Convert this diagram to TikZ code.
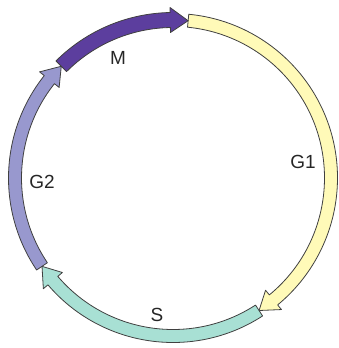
\documentclass[tikz,border=0pt]{standalone}
\usepackage{fontspec}
\setmainfont{Liberation Sans}
\usepackage{xcolor}
\usepackage{tikz}

\definecolor{mphase}{RGB}{92,62,158}
\definecolor{gtwophase}{RGB}{152,152,206}
\definecolor{gonephase}{RGB}{255,250,184}
\definecolor{sphase}{RGB}{168,224,212}

% one phase of the cycle: colour, start angle, end angle, half width
\newcommand{\phasearc}[4]{%
  \draw[phase, fill=#1] ({#2}:{158+#4})
    arc[start angle=#2, end angle=#3+6.5, radius=158+#4]
    -- ({#3+6.5}:170.5) -- ({#3}:158) -- ({#3+6.5}:145.5)
    -- ({#3+6.5}:{158-#4})
    arc[start angle=#3+6.5, end angle=#2, radius=158-#4] -- cycle;}

\begin{document}
\begin{tikzpicture}[x=1pt, y=1pt,
    phase/.style={draw=black!75, line width=0.8pt, line join=round},
    phase label/.style={text=black!85, font=\fontsize{19}{21}\selectfont},
  ]
  \useasboundingbox (0,0) rectangle (338,348);

  % Phases (clockwise)
  \begin{scope}[shift={(173,170)}]
    \phasearc{gonephase}{84.5}{-57}{6.5}
    \phasearc{sphase}{303}{214}{6.5}
    \phasearc{gtwophase}{214}{135}{6.5}
    \phasearc{mphase}{135}{84.5}{7.5}
  \end{scope}

  % Labels
  \node[phase label] (m)  at (118, 290) {M};
  \node[phase label] (g1) at (303, 186) {G1};
  \node[phase label] (g2) at (42, 166)  {G2};
  \node[phase label] (s)  at (157, 33)  {S};

\end{tikzpicture}
\end{document}
